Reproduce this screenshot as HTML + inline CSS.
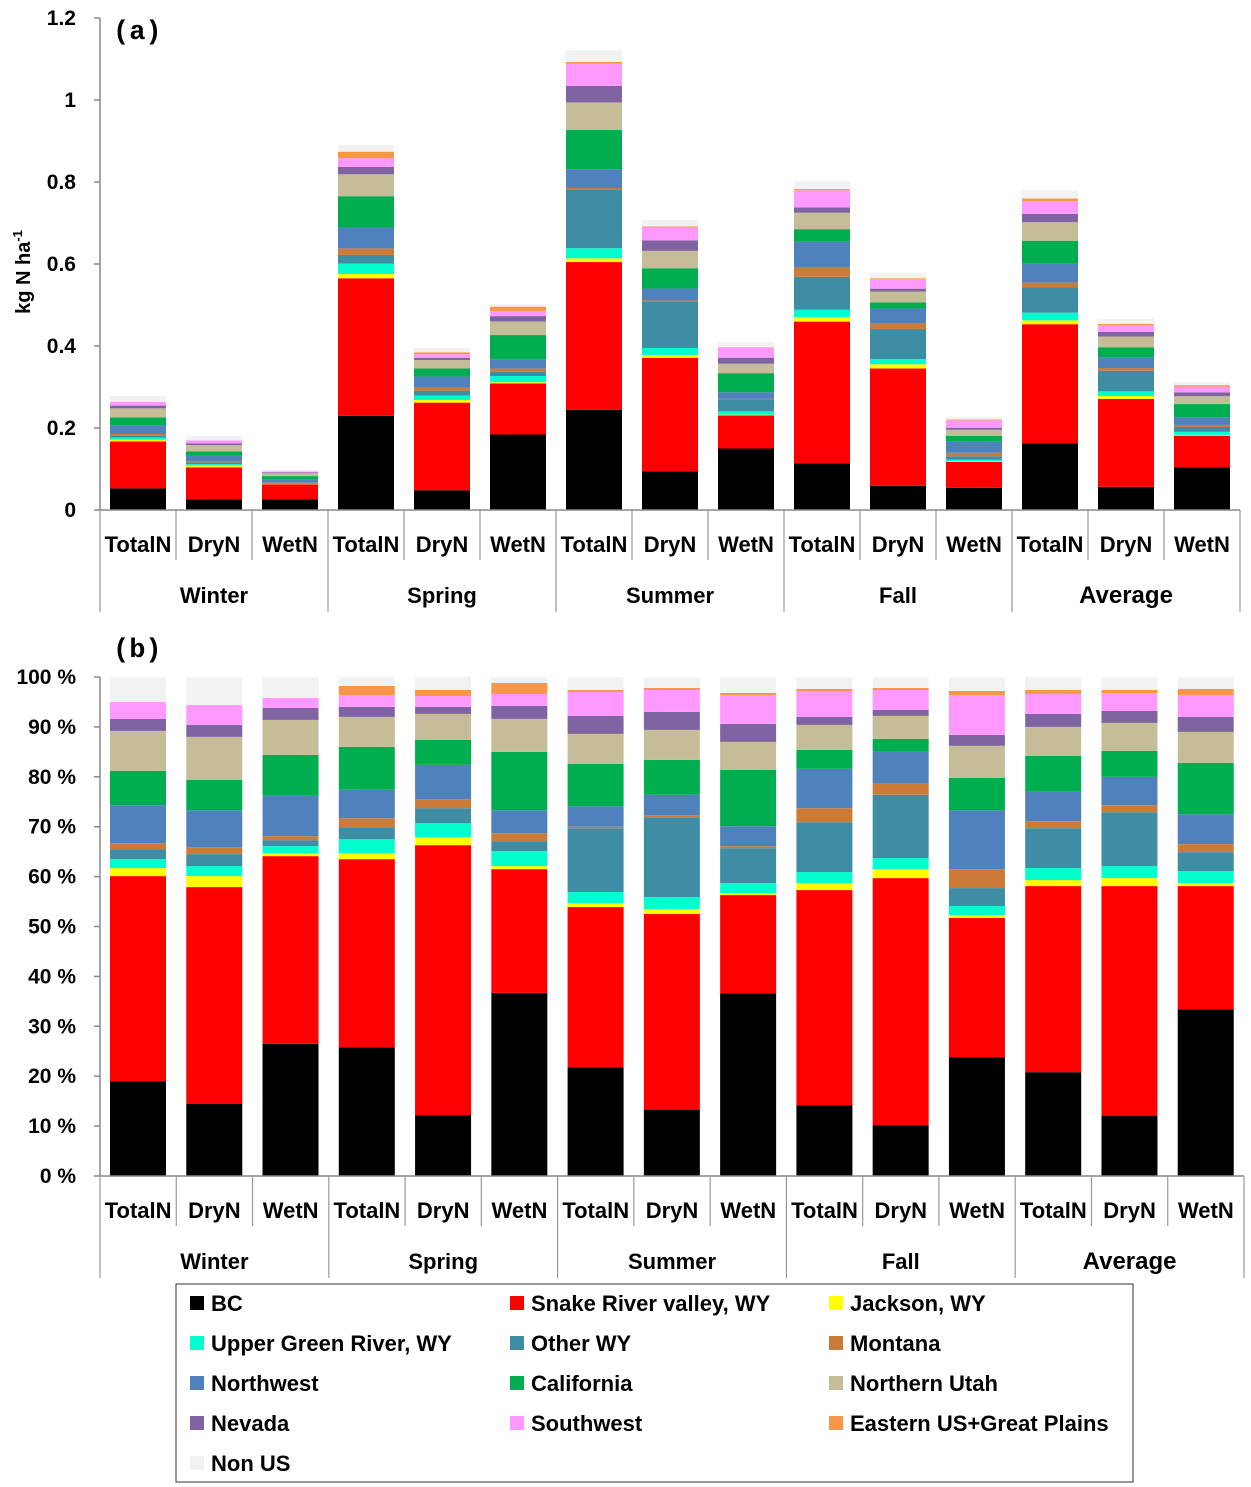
<!DOCTYPE html>
<html><head><meta charset="utf-8"><style>
body{margin:0;background:#fff}
svg{display:block;font-family:"Liberation Sans",sans-serif;font-weight:bold}
</style></head><body>
<svg id="c" width="1251" height="1487" viewBox="0 0 1251 1487"></svg>
<script>
const seriesNames=["BC","Snake River valley, WY","Jackson, WY","Upper Green River, WY","Other WY","Montana","Northwest","California","Northern Utah","Nevada","Southwest","Eastern US+Great Plains","Non US"];
const seriesColors=["#000000","#ff0000","#ffff00","#00ffcc","#3f8ca5","#cc7a38","#4f81bd","#00ad4f","#c4bd97","#8064a2","#ff99ff","#f79646","#f2f2f2"];
const groups=["Winter","Spring","Summer","Fall","Average"];
const cats=["TotalN","DryN","WetN"];
const totals=[0.278,0.18,0.098,0.89,0.395,0.502,1.122,0.707,0.41,0.802,0.578,0.227,0.78,0.466,0.312];
const BC=[19,14.5,26.5,25.8,12.2,36.7,21.8,13.3,36.6,14.2,10.2,23.8,20.8,12.1,33.4];
const Snake=[41.1,43.4,37.6,37.7,54.1,24.8,32.1,39.2,19.7,43.1,49.5,27.9,37.3,46.0,24.7];
const Jackson=[1.6,2.2,0.6,1.2,1.6,0.6,0.8,1.0,0.4,1.4,1.8,0.6,1.2,1.6,0.6];
const UpperGreen=[1.8,2.0,1.4,2.8,2.8,3.0,2.2,2.4,2.0,2.2,2.2,1.8,2.4,2.4,2.4];
const OtherWY=[2.0,2.4,1.2,2.4,3.0,2.0,12.8,16.0,7.0,10.0,12.7,3.6,8.0,10.8,3.8];
const Montana=[1.2,1.4,0.8,1.8,1.8,1.6,0.3,0.4,0.4,2.8,2.2,3.8,1.4,1.4,1.6];
const Northwest=[7.6,7.4,8.1,5.7,6.9,4.6,4.1,4.1,4.0,7.9,6.4,11.8,5.9,5.7,6.0];
const California=[6.9,6.1,8.2,8.6,5.0,11.7,8.5,7.0,11.3,3.8,2.6,6.5,7.2,5.2,10.3];
const NUtah=[8.0,8.6,7.0,6.0,5.2,6.6,6.0,6.0,5.6,5.0,4.6,6.4,5.8,5.6,6.2];
const Nevada=[2.4,2.4,2.4,2.0,1.4,2.6,3.6,3.6,3.6,1.6,1.2,2.2,2.6,2.4,3.0];
const Southwest=[3.4,4.0,2.0,2.4,2.2,2.4,4.8,4.4,5.8,5.2,4.0,8.0,4.0,3.6,4.4];
const Eastern=[0,0,0,1.8,1.2,2.2,0.4,0.4,0.4,0.4,0.4,0.8,0.8,0.6,1.2];
const NonUS=[5.0,5.6,4.2,1.8,2.6,1.2,2.6,2.2,3.2,2.4,2.2,2.8,2.6,2.6,2.4];
const yTicksA=["0","0.2","0.4","0.6","0.8","1","1.2"];
const yTicksB=["0 %","10 %","20 %","30 %","40 %","50 %","60 %","70 %","80 %","90 %","100 %"];
const series=[BC,Snake,Jackson,UpperGreen,OtherWY,Montana,Northwest,California,NUtah,Nevada,Southwest,Eastern,NonUS];
const svg=document.getElementById('c');
const NS="http://www.w3.org/2000/svg";
function mk(tag,at,txt){const e=document.createElementNS(NS,tag);for(const k in at)e.setAttribute(k,at[k]);if(txt!=null)e.textContent=txt;svg.appendChild(e);return e;}
function panel(p){
  const y0=p.y0,y1=p.y1,x0=100,x1=p.x1,ymax=p.ymax;
  const bw=(x1-x0)/15;
  const ys=v=>y0-(v/ymax)*(y0-y1);
  // bars
  for(let i=0;i<15;i++){
    let sum=0;for(const s of series)sum+=s[i];
    let acc=0;
    const bx=x0+bw*i+10;
    series.forEach((s,k)=>{
      const v=p.pct? s[i]/sum*100 : s[i]/sum*totals[i];
      const ya=ys(acc),yb=ys(acc+v);acc+=v;
      if(v<=0)return;
      const r=mk('rect',{x:bx,y:yb,width:56,height:ya-yb,fill:seriesColors[k]});
      
      
    });
  }
  // axes
  const ya=mk('line',{x1:x0,y1:y1,x2:x0,y2:y0,stroke:'#888','stroke-width':1.5});
  
  const xa=mk('line',{x1:x0,y1:y0,x2:x1,y2:y0,stroke:'#888','stroke-width':1.5});
  
  p.ticks.forEach((t,j)=>{
    const v=ymax*j/(p.ticks.length-1);const y=ys(v);
    mk('line',{x1:x0-6,y1:y,x2:x0,y2:y,stroke:'#888','stroke-width':1.5});
    const tx=mk('text',{x:x0-24,y:y+7,'text-anchor':'end','font-size':21},t);
    
  });
  for(let i=0;i<=15;i++){
    const x=x0+bw*i;const grp=i%3==0;
    mk('line',{x1:x,y1:y0,x2:x,y2:grp?y0+102:y0+50,stroke:'#999','stroke-width':1.2});
  }
  for(let i=0;i<15;i++){
    const t=mk('text',{x:x0+bw*(i+0.5),y:y0+42,'text-anchor':'middle','font-size':22},cats[i%3]);
    
  }
  groups.forEach((g,j)=>{
    const t=mk('text',{x:x0+bw*(3*j+1.5),y:y0+93,'text-anchor':'middle','font-size':g=='Average'?24:22},g);
    
  });
  const pl=mk('text',{x:113,y:p.labY,'font-size':27,'font-family':'Liberation Mono, monospace'},p.lab);
  
}
panel({id:'panel-a',y0:510,y1:18,x1:1240,ymax:1.2,pct:false,ticks:yTicksA,lab:'(a)',labY:39});
panel({id:'panel-b',y0:1176,y1:677,x1:1244,ymax:100,pct:true,ticks:yTicksB,lab:'(b)',labY:657});
const yt=mk('text',{transform:'translate(30,272) rotate(-90)','text-anchor':'middle','font-size':20});

yt.innerHTML='kg N ha<tspan dy="-8" font-size="13">-1</tspan>';
// legend
const lb=mk('rect',{x:176,y:1284,width:957,height:198,fill:'#fff',stroke:'#333','stroke-width':1});

const colX=[190,510,829];
seriesNames.forEach((n,k)=>{
  const cx=colX[k%3],cy=1303+40*Math.floor(k/3);
  const sq=mk('rect',{x:cx,y:cy-7,width:14,height:14,fill:seriesColors[k]});
  
  const t=mk('text',{x:cx+21,y:cy+8,'font-size':22},n);
  
});
</script>
</body></html>
